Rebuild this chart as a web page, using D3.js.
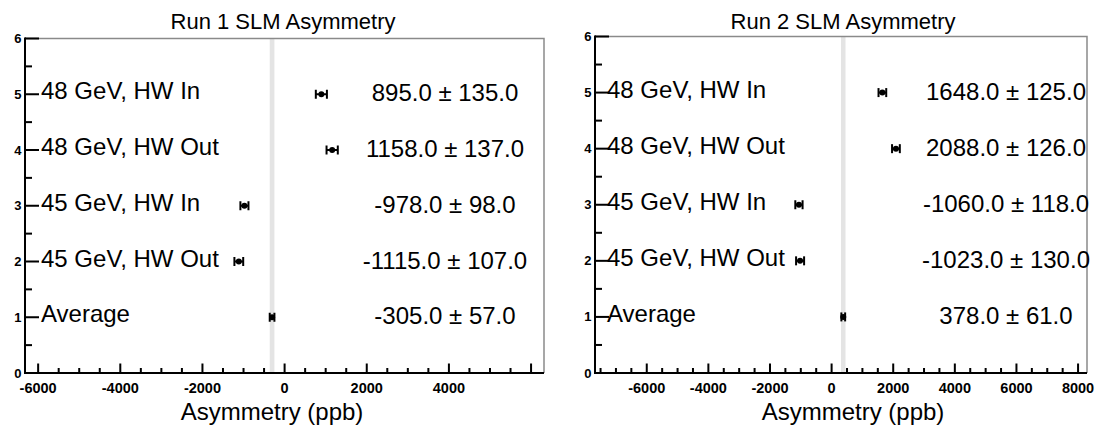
<!DOCTYPE html>
<html>
<head>
<meta charset="utf-8">
<script src="https://cdn.jsdelivr.net/npm/d3@7"></script>
<style>
  html, body { margin: 0; padding: 0; background: #fff; }
  svg { display: block; font-family: "Liberation Sans", Arial, Helvetica, sans-serif; }
</style>
</head>
<body>
<svg id="chart" width="1096" height="427"></svg>
<script>
// ---- data ----
const categories = ["48 GeV, HW In", "48 GeV, HW Out", "45 GeV, HW In", "45 GeV, HW Out", "Average"];
const categoryPositions = [5, 4, 3, 2, 1];
const run1Values = [895.0, 1158.0, -978.0, -1115.0, -305.0];
const run1Errors = [135.0, 137.0, 98.0, 107.0, 57.0];
const run2Values = [1648.0, 2088.0, -1060.0, -1023.0, 378.0];
const run2Errors = [125.0, 126.0, 118.0, 130.0, 61.0];
const panelTitles = ["Run 1 SLM Asymmetry", "Run 2 SLM Asymmetry"];
const xAxisTitle = "Asymmetry (ppb)";
const run1XDomain = [-6320, 6315];
const run2XDomain = [-7680, 8290];
const yDomain = [0, 6];
const run1XTicks = [-6000, -4000, -2000, 0, 2000, 4000];
const run2XTicks = [-6000, -4000, -2000, 0, 2000, 4000, 6000, 8000];
const yTicks = [0, 1, 2, 3, 4, 5, 6];

// ---- layout ----
const panels = [
  { x0: 25, x1: 544, y0: 38.5, y1: 373, xDomain: run1XDomain, xTicks: run1XTicks,
    values: run1Values, errors: run1Errors, title: panelTitles[0],
    titleX: 283, axisTitleX: 272, labelDx: 16, textX: 445 },
  { x0: 595, x1: 1087, y0: 36.5, y1: 373, xDomain: run2XDomain, xTicks: run2XTicks,
    values: run2Values, errors: run2Errors, title: panelTitles[1],
    titleX: 843, axisTitleX: 853, labelDx: 12, textX: 1006 }
];

const locale = d3.formatLocale({ decimal: ".", thousands: "", grouping: [3], currency: ["", ""], minus: "-" });
const fmt = locale.format(".1f");
const fmtInt = locale.format("d");
const svg = d3.select("#chart");

panels.forEach(p => {
  const x = d3.scaleLinear().domain(p.xDomain).range([p.x0, p.x1]);
  const y = d3.scaleLinear().domain(yDomain).range([p.y1, p.y0]);
  const g = svg.append("g");

  // average band (mean ± error of the "Average" row)
  const ai = categories.indexOf("Average");
  const bandL = x(p.values[ai] - p.errors[ai]);
  const bandR = x(p.values[ai] + p.errors[ai]);
  const bw = Math.max(4.5, bandR - bandL);
  g.append("rect")
    .attr("x", (bandL + bandR) / 2 - bw / 2).attr("y", p.y0)
    .attr("width", bw).attr("height", p.y1 - p.y0)
    .attr("fill", "#e4e4e4");

  // frame (top/right grey)
  g.append("path")
    .attr("d", `M${p.x0},${p.y0}H${p.x1}V${p.y1}`)
    .attr("fill", "none").attr("stroke", "#8a8a8a").attr("stroke-width", 1.5);

  // x axis: ticks inside (upward)
  const xMinor = d3.range(Math.ceil(p.xDomain[0] / 500) * 500, p.xDomain[1] + 1, 500);
  g.selectAll("rect.xt").data(xMinor).enter().append("rect")
    .attr("class", "xt")
    .attr("x", d => x(d) - 1).attr("width", 2)
    .attr("y", d => p.y1 - (d % 2000 === 0 ? 9.5 : 5)).attr("height", d => (d % 2000 === 0 ? 9.5 : 5))
    .attr("fill", "#000");
  g.selectAll("text.xl").data(p.xTicks).enter().append("text")
    .attr("class", "xl")
    .attr("x", d => x(d)).attr("y", p.y1 + 20)
    .attr("text-anchor", "middle")
    .attr("font-size", 14.5).attr("font-weight", "bold").attr("fill", "#000")
    .text(d => fmtInt(d));
  g.append("rect")
    .attr("x", p.x0 - 1).attr("y", p.y1 - 1).attr("width", p.x1 - p.x0 + 1).attr("height", 2)
    .attr("fill", "#000");

  // y axis: ticks to the right
  const yMinor = d3.range(0, 6.01, 0.5);
  g.selectAll("rect.yt").data(yMinor).enter().append("rect")
    .attr("class", "yt")
    .attr("x", p.x0).attr("width", d => (Number.isInteger(d) ? 14 : 7))
    .attr("y", d => y(d) - 1).attr("height", 2)
    .attr("fill", "#000");
  g.selectAll("text.yl").data(yTicks).enter().append("text")
    .attr("class", "yl")
    .attr("x", p.x0 - 3.5).attr("y", d => y(d) + 4.5)
    .attr("text-anchor", "end")
    .attr("font-size", 13).attr("font-weight", "bold").attr("fill", "#000")
    .text(d => d);
  g.append("rect")
    .attr("x", p.x0 - 1).attr("y", p.y0 - 1).attr("width", 2).attr("height", p.y1 - p.y0 + 2)
    .attr("fill", "#000");

  // category labels
  g.selectAll("text.cat").data(categories).enter().append("text")
    .attr("class", "cat")
    .attr("x", p.x0 + p.labelDx)
    .attr("y", (d, i) => y(categoryPositions[i]) + 5)
    .attr("font-size", 24).attr("fill", "#000")
    .text(d => d);

  // error bars
  const rows = categories.map((c, i) => ({ v: p.values[i], e: p.errors[i], pos: categoryPositions[i] }));
  const eb = g.selectAll("g.eb").data(rows).enter().append("g").attr("class", "eb");
  eb.append("line")
    .attr("x1", d => x(d.v - d.e)).attr("x2", d => x(d.v + d.e))
    .attr("y1", d => y(d.pos)).attr("y2", d => y(d.pos))
    .attr("stroke", "#000").attr("stroke-width", 2);
  eb.append("line")
    .attr("x1", d => x(d.v - d.e)).attr("x2", d => x(d.v - d.e))
    .attr("y1", d => y(d.pos) - 4.5).attr("y2", d => y(d.pos) + 4.5)
    .attr("stroke", "#000").attr("stroke-width", 2);
  eb.append("line")
    .attr("x1", d => x(d.v + d.e)).attr("x2", d => x(d.v + d.e))
    .attr("y1", d => y(d.pos) - 4.5).attr("y2", d => y(d.pos) + 4.5)
    .attr("stroke", "#000").attr("stroke-width", 2);
  eb.append("circle")
    .attr("cx", d => x(d.v)).attr("cy", d => y(d.pos)).attr("r", 3)
    .attr("fill", "#000");

  // value labels
  g.selectAll("text.val").data(rows).enter().append("text")
    .attr("class", "val")
    .attr("x", p.textX).attr("y", d => y(d.pos) + 7)
    .attr("text-anchor", "middle")
    .attr("font-size", 24).attr("fill", "#000")
    .text(d => `${fmt(d.v)} ± ${fmt(d.e)}`);

  // titles
  g.append("text")
    .attr("x", p.titleX).attr("y", 29)
    .attr("text-anchor", "middle").attr("font-size", 22)
    .text(p.title);
  g.append("text")
    .attr("x", p.axisTitleX).attr("y", 420)
    .attr("text-anchor", "middle").attr("font-size", 24)
    .text(xAxisTitle);
});
</script>
</body>
</html>
